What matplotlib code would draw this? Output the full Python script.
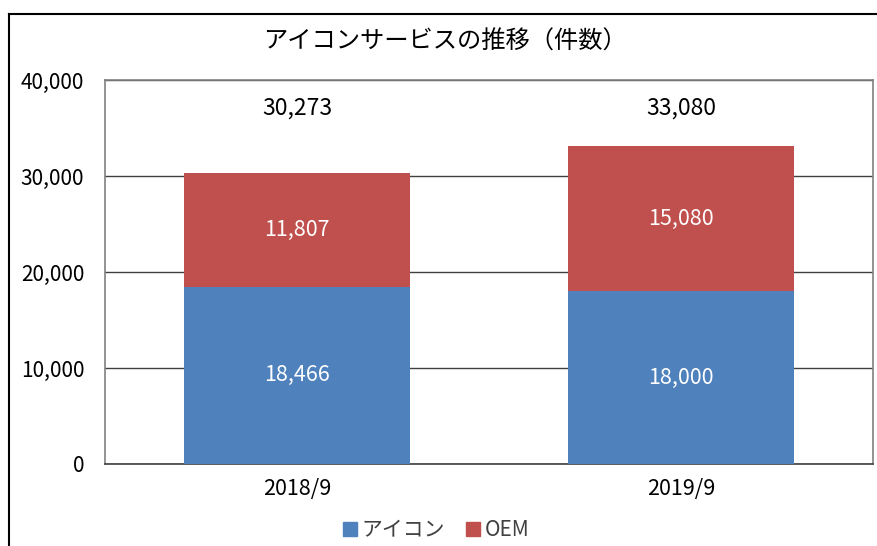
import matplotlib
matplotlib.use('Agg')
import matplotlib.pyplot as plt
from matplotlib.lines import Line2D
from matplotlib.ticker import FuncFormatter

plt.rcParams['font.family'] = ['Noto Sans CJK JP', 'DejaVu Sans']

categories = ['2018/9', '2019/9']
icon_vals = [18466, 18000]
oem_vals = [11807, 15080]
totals = [30273, 33080]
series_names = ['アイコン', 'OEM']
title = 'アイコンサービスの推移（件数）'

blue = '#4F81BD'
red = '#C0504D'

fig = plt.figure(figsize=(8.78, 5.46), dpi=100)
ax = fig.add_axes([105/878, 82/546, 768/878, 384/546])

x = range(len(categories))
b1 = ax.bar(x, icon_vals, width=0.59, color=blue, zorder=3)
b2 = ax.bar(x, oem_vals, width=0.59, bottom=icon_vals, color=red, zorder=3)

for i in x:
    ax.text(i, icon_vals[i] / 2, f'{icon_vals[i]:,}', ha='center', va='center',
            color='white', fontsize=15.5, zorder=4)
    ax.text(i, icon_vals[i] + oem_vals[i] / 2, f'{oem_vals[i]:,}', ha='center',
            va='center', color='white', fontsize=15.5, zorder=4)
    # totals sit in the top band of the plot
    ax.text(i, 37100, f'{totals[i]:,}', ha='center', va='center',
            color='black', fontsize=16.5, zorder=4)

ax.set_xlim(-0.5, 1.5)
ax.set_ylim(0, 40000)
ax.set_yticks([0, 10000, 20000, 30000, 40000])
ax.yaxis.set_major_formatter(FuncFormatter(lambda v, p: f'{int(v):,}'))
ax.set_xticks(list(x))
ax.set_xticklabels(categories)
ax.tick_params(axis='y', length=0, labelsize=15, pad=15)
ax.tick_params(axis='x', length=0, labelsize=15.5, pad=10)
ax.grid(axis='y', color='#404040', linewidth=1.0, zorder=0)
for s in ax.spines.values():
    s.set_color('#808080')
    s.set_linewidth(1.2)
ax.spines['bottom'].set_color('#404040')

fig.text(445/878, 1 - 42/546, title, ha='center', va='center', fontsize=17.5)

handles = [Line2D([], [], marker='s', linestyle='none', markersize=10, color=c)
           for c in (blue, red)]
fig.legend(handles, series_names, loc='center', bbox_to_anchor=(436/878, 1 - 530/546),
           ncol=2, frameon=False, fontsize=15, handlelength=0.7, handletextpad=0.2,
           columnspacing=1.0, labelcolor='#404040')

# outer chart frame (right and bottom edges run off the image)
fig.add_artist(Line2D([8.5/878, 8.5/878], [0, 1 - 13.5/546], color='black', linewidth=1.5,
                      transform=fig.transFigure))
fig.add_artist(Line2D([8.5/878, 1], [1 - 13.5/546, 1 - 13.5/546], color='black',
                      linewidth=1.5, transform=fig.transFigure))

fig.savefig('out.png', dpi=100)
